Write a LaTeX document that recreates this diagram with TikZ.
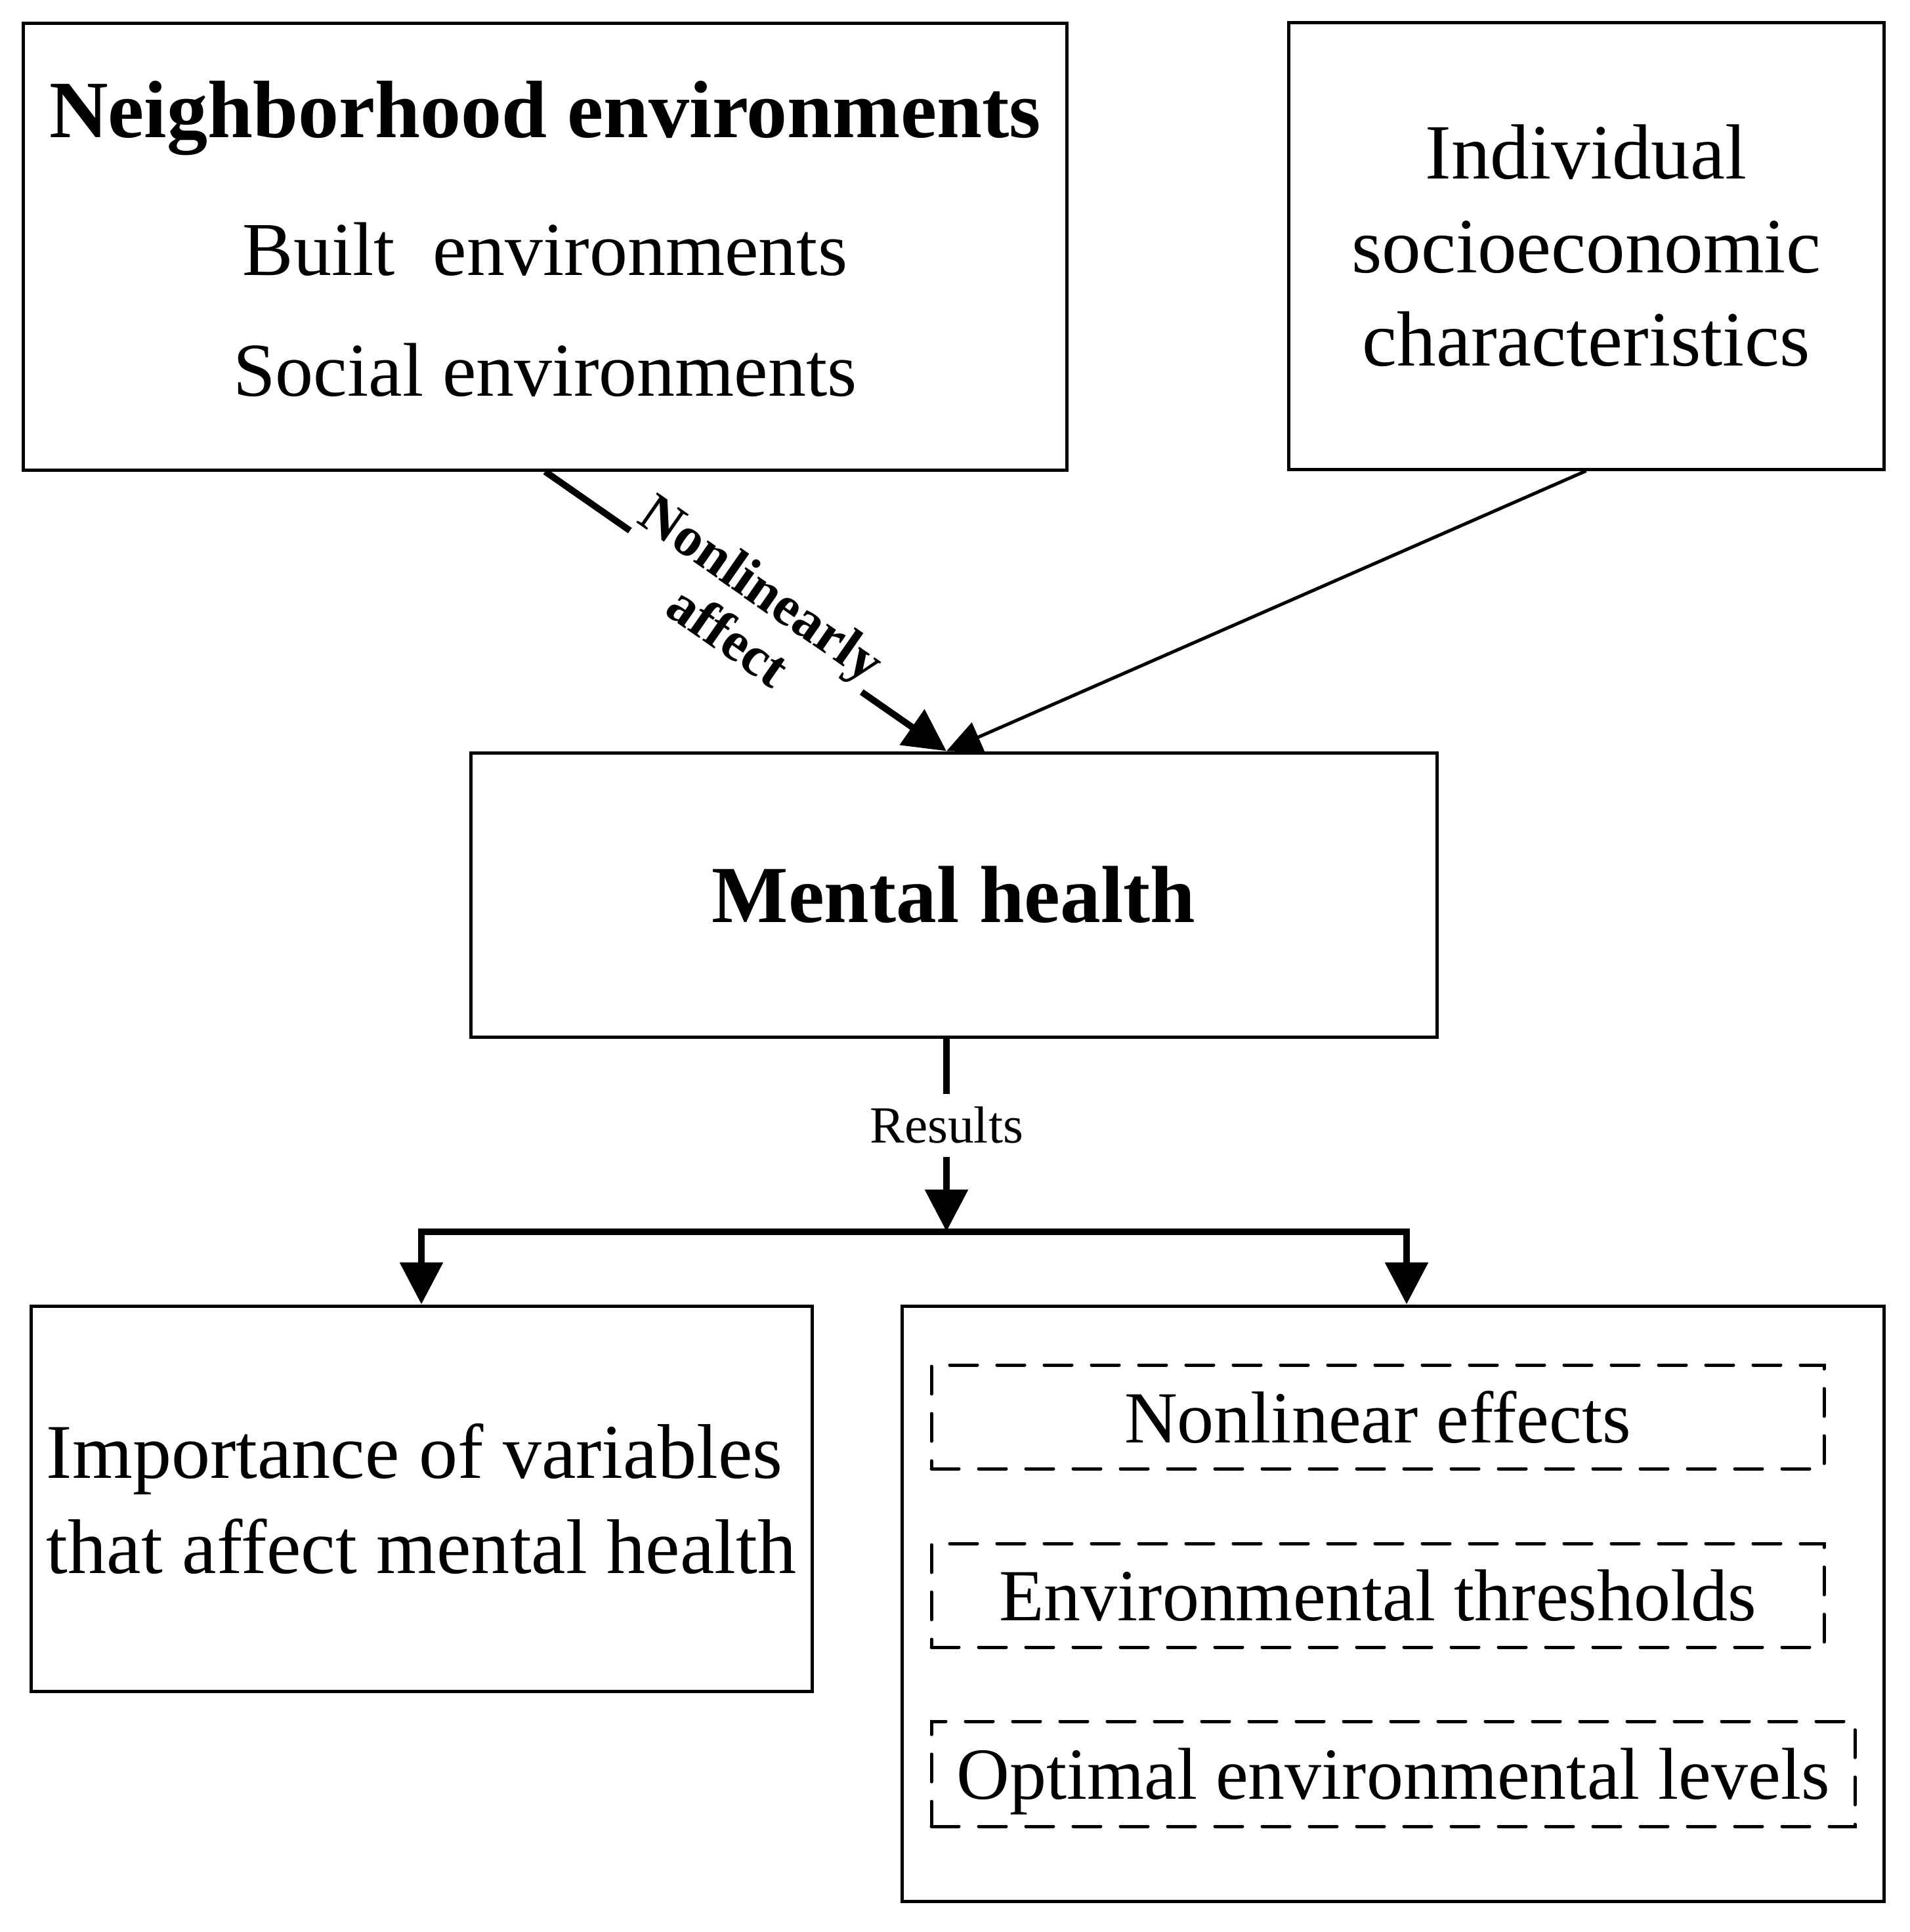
\documentclass[tikz,border=0pt]{standalone}
\usepackage{fontspec}
\setmainfont{Liberation Serif}
\usepackage{tikz}
\usetikzlibrary{arrows.meta}
\tikzset{
    box/.style={draw=black, line width=0.05cm, rectangle, inner sep=0pt},
    dashbox/.style={box, dash pattern=on 0.42cm off 0.30cm, line cap=round, text depth=0pt,
        font=\fontsize{31.85pt}{38pt}\selectfont},
    heavy/.style={line width=0.1cm, -{Triangle[length=6.4mm, width=6.4mm]}},
    light/.style={line width=0.05cm, -{Triangle[length=5.3mm, width=4.8mm]}}}

\begin{document}
\begin{tikzpicture}
                    \useasboundingbox (0,0) rectangle (29.09,-29.44);

                    \node[box, minimum width=15.89cm, minimum height=6.81cm, align=center, text depth=0.24cm, font=\fontsize{33pt}{52.35pt}\selectfont] (neigh) at (8.305,-3.755) {{\fontsize{35.3pt}{52.35pt}\selectfont\bfseries Neighborhood environments}\\[7.4pt] Built\ \ environments\\ Social environments};
                    \node[box, minimum width=9.07cm, minimum height=6.81cm, align=center, font=\fontsize{33.9pt}{40.55pt}\selectfont] (indiv) at (24.165,-3.745) {Individual\\ socioeconomic\\ characteristics};
                    \node[box, minimum width=14.72cm, minimum height=4.33cm, font=\fontsize{35.1pt}{41pt}\selectfont\bfseries] (mental) at (14.53,-13.635) {Mental health};
                    \node[box, minimum width=11.90cm, minimum height=5.87cm, align=left, font=\fontsize{33.6pt}{41.25pt}\selectfont] (importance) at (6.42,-22.835) {Importance of variables\\ that affect mental health};
                    \node[box, minimum width=14.96cm, minimum height=9.07cm] (findings) at (21.22,-24.435) {};
                    \node[dashbox, minimum width=13.60cm, minimum height=1.58cm] (nonlin) at (20.99,-21.59) {Nonlinear effects};
                    \node[dashbox, minimum width=13.60cm, minimum height=1.58cm] (thresh) at (20.99,-24.31) {Environmental thresholds};
                    \node[dashbox, minimum width=14.07cm, minimum height=1.60cm] (optimal) at (21.225,-27.03) {Optimal environmental levels};

                    \coordinate (mtop) at ([xshift=-1.1mm]mental.north);
                    \coordinate (mbot) at ([xshift=-1.1mm]mental.south);
                    \coordinate (split) at ([yshift=-2.94cm]mbot);

                    \draw[heavy] (neigh.south) -- (mtop) node[midway, sloped, fill=white, inner sep=0pt, align=center, font=\fontsize{24.2pt}{25.6pt}\selectfont\bfseries] (affects) {Nonlinearly\\ affect};
                    \draw[light] (indiv.south) -- (mtop);
                    \draw[heavy] (mbot) -- (split) node[pos=0.45, fill=white, inner xsep=2pt, inner ysep=0.2cm, font=\fontsize{22.6pt}{27pt}\selectfont] (results) {Results};
                    \draw[heavy] (split) -| (importance.north);
                    \draw[heavy] (split) -| ([xshift=2.1mm]findings.north);

                \end{tikzpicture}
\end{document}
